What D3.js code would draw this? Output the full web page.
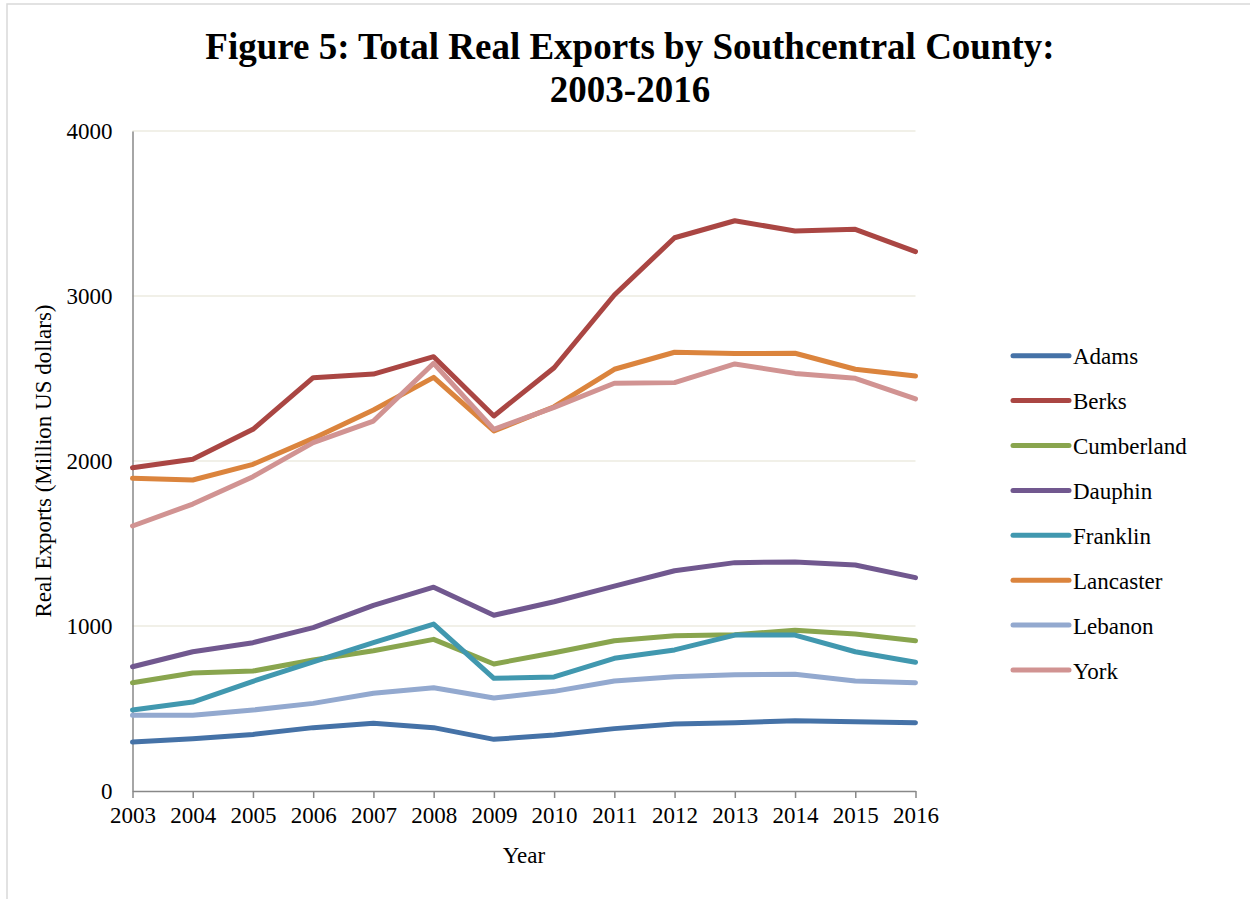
<!DOCTYPE html>
<html>
<head>
<meta charset="utf-8">
<script src="https://cdn.jsdelivr.net/npm/d3@7"></script>
<style>
  html, body { margin: 0; padding: 0; background: #fff; }
  svg { display: block; font-family: "Liberation Serif", "Times New Roman", serif; }
</style>
</head>
<body>
<svg id="chart" width="1250" height="899"></svg>
<script>
const years = [2003, 2004, 2005, 2006, 2007, 2008, 2009, 2010, 2011, 2012, 2013, 2014, 2015, 2016];
const counties = ["Adams", "Berks", "Cumberland", "Dauphin", "Franklin", "Lancaster", "Lebanon", "York"];
const adams      = [297, 317, 343, 384, 410, 384, 313, 339, 378, 406, 414, 426, 420, 414];
const berks      = [1959, 2010, 2192, 2505, 2527, 2632, 2273, 2565, 3006, 3353, 3456, 3394, 3404, 3269];
const cumberland = [656, 715, 727, 794, 850, 919, 770, 838, 911, 941, 947, 974, 952, 911];
const dauphin    = [753, 844, 899, 990, 1125, 1235, 1065, 1147, 1242, 1335, 1384, 1388, 1370, 1293];
const franklin   = [491, 539, 665, 782, 899, 1012, 683, 691, 804, 855, 945, 945, 844, 780];
const lancaster  = [1895, 1885, 1980, 2137, 2309, 2507, 2182, 2329, 2556, 2659, 2651, 2653, 2556, 2515];
const lebanon    = [459, 459, 491, 531, 592, 626, 564, 604, 667, 693, 705, 707, 667, 656];
const york       = [1606, 1739, 1905, 2111, 2242, 2592, 2192, 2325, 2471, 2475, 2588, 2531, 2501, 2376];
const yTicks = [0, 1000, 2000, 3000, 4000];
const colors = ["#4572A7", "#AA4643", "#89A54E", "#71588F", "#4198AF", "#DB843D", "#93A9CF", "#D19392"];
const seriesValues = [adams, berks, cumberland, dauphin, franklin, lancaster, lebanon, york];

const titleLines = ["Figure 5: Total Real Exports by Southcentral County:", "2003-2016"];
const yTitle = "Real Exports (Million US dollars)";
const xTitle = "Year";

const svg = d3.select("#chart");

// outer frame
svg.append("rect").attr("x", 7).attr("y", 4).attr("width", 1260).attr("height", 910)
  .attr("fill", "none").attr("stroke", "#d9d9d9").attr("stroke-width", 1.5);

const pLeft = 132.5, pRight = 915.5, pTop = 131, pBottom = 791;
const x = d3.scaleLinear().domain([years[0], years[years.length - 1]]).range([pLeft, pRight]);
const y = d3.scaleLinear().domain([0, 4000]).range([pBottom, pTop]);

// gridlines
svg.append("g").selectAll("line").data(yTicks.filter(d => d > 0)).join("line")
  .attr("x1", pLeft).attr("x2", pRight)
  .attr("y1", d => y(d)).attr("y2", d => y(d))
  .attr("stroke", "#ecebe0").attr("stroke-width", 1.5);

// y axis
const yAxis = svg.append("g").attr("transform", `translate(${pLeft},0)`)
  .call(d3.axisLeft(y).tickValues(yTicks).tickSize(0).tickPadding(20).tickFormat(d3.format("d")));
yAxis.select(".domain").attr("stroke", "#888").attr("stroke-width", 1.5);
yAxis.selectAll("text").attr("font-size", 23).attr("fill", "#000").attr("font-family", "Liberation Serif");

// x axis
const xAxis = svg.append("g").attr("transform", `translate(0,${pBottom})`)
  .call(d3.axisBottom(x).tickValues(years).tickSize(7).tickPadding(9).tickSizeOuter(0).tickFormat(d3.format("d")));
xAxis.select(".domain").attr("stroke", "#888").attr("stroke-width", 1.5);
xAxis.selectAll(".tick line").attr("stroke", "#888").attr("stroke-width", 1.5);
xAxis.selectAll("text").attr("font-size", 23).attr("fill", "#000").attr("font-family", "Liberation Serif");

// lines
const line = d3.line().x((d, i) => x(years[i])).y(d => y(d));
svg.append("g").selectAll("path").data(seriesValues).join("path")
  .attr("d", d => line(d))
  .attr("fill", "none")
  .attr("stroke", (d, i) => colors[i])
  .attr("stroke-width", 5)
  .attr("stroke-linejoin", "round")
  .attr("stroke-linecap", "round");

// title
svg.append("text").attr("x", 630).attr("text-anchor", "middle")
  .attr("font-weight", "bold").attr("font-size", 37)
  .selectAll("tspan").data(titleLines).join("tspan")
  .attr("x", 630).attr("y", (d, i) => 59 + i * 43).text(d => d);

// axis titles
svg.append("text").attr("x", (pLeft + pRight) / 2).attr("y", 863)
  .attr("text-anchor", "middle").attr("font-size", 23).text(xTitle);
svg.append("text").attr("transform", `translate(51,${(pTop + pBottom) / 2}) rotate(-90)`)
  .attr("text-anchor", "middle").attr("font-size", 23).text(yTitle);

// legend
const lg = svg.append("g").selectAll("g").data(counties).join("g")
  .attr("transform", (d, i) => `translate(1013,${355.7 + i * 44.9})`);
lg.append("line").attr("x1", 0).attr("x2", 56).attr("y1", 0).attr("y2", 0)
  .attr("stroke", (d, i) => colors[i]).attr("stroke-width", 5).attr("stroke-linecap", "round");
lg.append("text").attr("x", 60).attr("y", 8.5).attr("font-size", 23).text(d => d);
</script>
</body>
</html>
